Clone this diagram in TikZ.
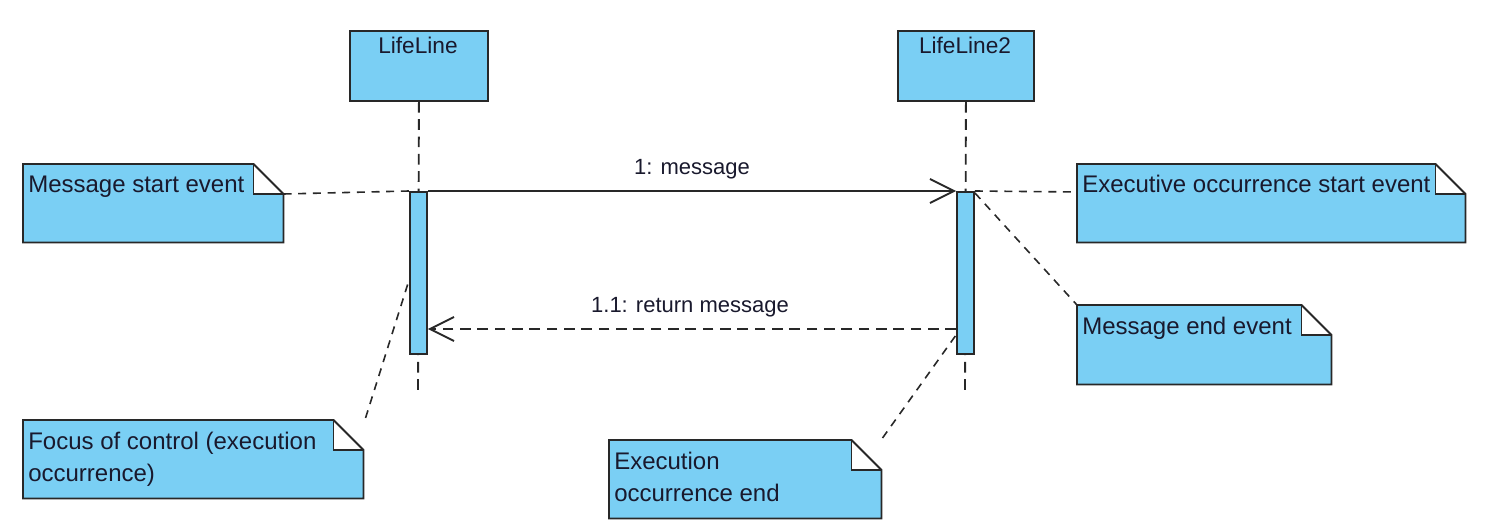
\documentclass[tikz,border=0pt]{standalone}
\usepackage{fontspec}
\setmainfont{Liberation Sans}
\usetikzlibrary{arrows.meta}
\definecolor{fillblue}{RGB}{122,207,244}
\definecolor{linegray}{RGB}{40,40,40}
\definecolor{txtcol}{RGB}{25,25,45}
\tikzset{
  lifebox/.style={draw=linegray, fill=fillblue, line width=1.4pt, inner sep=0pt},
  actbar/.style={draw=linegray, fill=fillblue, line width=1.4pt, inner sep=0pt, minimum width=17*0.75pt, minimum height=162*0.75pt, anchor=north},
  lifeline/.style={draw=linegray, line width=1.4pt, dash pattern=on 8pt off 5pt},
  notebg/.style={fill=fillblue, inner sep=0pt, anchor=north west},
  noteline/.style={draw=linegray, line width=1.4pt, line join=miter},
  notetext/.style={text=txtcol, font=\fontsize{18}{24}\selectfont, inner sep=0pt, align=left, anchor=base west},
  lbltext/.style={text=txtcol, font=\fontsize{16.5}{20}\selectfont, inner sep=0pt, anchor=base},
  conn/.style={draw=linegray, line width=1.2pt, dash pattern=on 6pt off 5pt},
  msg/.style={draw=linegray, line width=1.4pt, -{Straight Barb[length=18pt, width=18pt, line width=1.4pt]}},
  retmsg/.style={draw=linegray, line width=1.4pt, dash pattern=on 8pt off 5pt, -{Straight Barb[length=18pt, width=18pt, line width=1.4pt]}},
}
% name, x, y, width, height, baseline offset of last text line, text
\newcommand\umlnote[7]{%
  \node[notebg, minimum width=#4*0.75pt, minimum height=#5*0.75pt] (#1) at (#2,#3) {};
  \fill[white] ([shift={(-30,-1)}]#1.north east) rectangle ([shift={(1,30)}]#1.north east);
  \draw[noteline] (#1.north west) -- ([shift={(-30,0)}]#1.north east) -- ([shift={(0,30)}]#1.north east) -- (#1.south east) -- (#1.south west) -- cycle;
  \draw[noteline] ([shift={(-30,0)}]#1.north east) -- ([shift={(-30,30)}]#1.north east) -- ([shift={(0,30)}]#1.north east);
  \node[notetext] (#1-t) at ([shift={(5,#6)}]#1.north west) {#7};
}
\begin{document}
\begin{tikzpicture}[x=0.75pt, y=-0.75pt]
\useasboundingbox (0,0) rectangle (1486,531);

% lifelines
\node[lifebox, anchor=north west, minimum width=138*0.75pt, minimum height=70*0.75pt] (L1) at (349,30) {};
\node[lbltext, font=\fontsize{17}{20}\selectfont] (L1-t) at (418,54) {LifeLine};
\node[lifebox, anchor=north west, minimum width=136*0.75pt, minimum height=70*0.75pt] (L2) at (897,30) {};
\node[lbltext, font=\fontsize{17}{20}\selectfont] (L2-t) at (965,54) {LifeLine2};
\coordinate (L1end) at (418,392);
\coordinate (L2end) at (965,392);
\draw[lifeline] (L1.south) -- (L1end);
\draw[lifeline] (L2.south) -- (L2end);

% activation bars
\node[actbar] (A1) at (418.5,191) {};
\node[actbar] (A2) at (965.5,191) {};

% messages
\draw[msg] (A1.north east) -- (A2.north west);
\node[lbltext] (m1) at (692,175) {1: message};
\draw[retmsg] ([shift={(0,138)}]A2.north west) -- ([shift={(0,138)}]A1.north east);
\node[lbltext] (m2) at (690,312) {1.1: return message};

% notes
\umlnote{ms}{23}{164}{260}{78}{29}{Message start event}
\umlnote{es}{1077}{164}{388}{78}{29}{Executive occurrence start event}
\umlnote{me}{1077}{305}{254}{79}{29}{Message end event}
\umlnote{fc}{23}{420}{340}{78}{61}{Focus of control (execution\\occurrence)}
\umlnote{ee}{609}{440}{272}{78}{61}{Execution\\occurrence end}

% note connectors
\draw[conn] ([shift={(0,30)}]ms.north east) -- (A1.north west);
\draw[conn] (A2.north east) -- ([shift={(0,28)}]es.north west);
\draw[conn] ([shift={(0,2)}]A2.north east) -- (me.north west);
\draw[conn] ([shift={(2,-2)}]fc.north east) -- ([shift={(0,89)}]A1.north west);
\draw[conn] ([shift={(1,-2)}]ee.north east) -- ([shift={(0,144)}]A2.north west);
\end{tikzpicture}
\end{document}
